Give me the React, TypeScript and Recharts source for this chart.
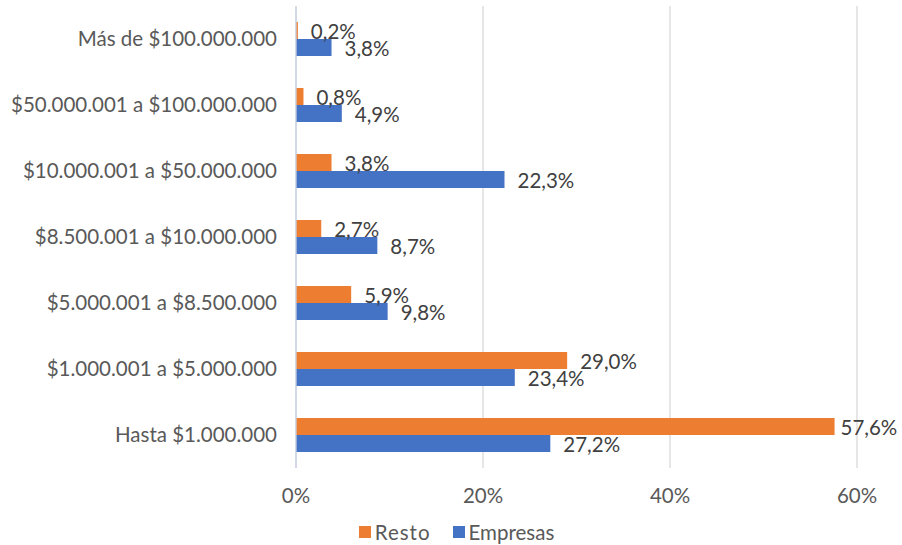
import { BarChart, Bar, XAxis, YAxis, CartesianGrid, LabelList, Legend } from 'recharts';

const categories = [
    'Más de $100.000.000',
    '$50.000.001 a $100.000.000',
    '$10.000.001 a $50.000.000',
    '$8.500.001 a $10.000.000',
    '$5.000.001 a $8.500.000',
    '$1.000.001 a $5.000.000',
    'Hasta $1.000.000',
];
const resto = [0.2, 0.8, 3.8, 2.7, 5.9, 29.0, 57.6];
const empresas = [3.8, 4.9, 22.3, 8.7, 9.8, 23.4, 27.2];
const xTicks = [0, 20, 40, 60];

const ORANGE = '#ED7D31';
const BLUE = '#4472C4';
const FONT = 'Lato, "Open Sans", sans-serif';

const pct = (v: number) => `${v.toFixed(1).replace('.', ',')}%`;

// value label to the right of the bar; long bars get a tighter gap so the text stays inside
const ValueLabel = (props: any) => {
    const { x, y, width, height, value } = props;
    const gap = value > 50 ? 6 : 13;
    return (
        <text
            x={x + width + gap}
            y={y + height / 2}
            dominantBaseline="central"
            fill="#404040"
            fontSize={20.5}
            fontFamily={FONT}
        >
            {pct(value)}
        </text>
    );
};

const LegendBox = () => (
    <div style={{ height: 26, display: 'flex', alignItems: 'center', justifyContent: 'center', paddingLeft: 56, fontFamily: FONT, fontSize: 20.5, color: '#595959' }}>
        <span style={{ width: 12, height: 12, background: ORANGE, marginRight: 4 }} />
        <span style={{ marginRight: 22, letterSpacing: 1 }}>Resto</span>
        <span style={{ width: 12, height: 12, background: BLUE, marginRight: 4 }} />
        <span>Empresas</span>
    </div>
);

export default function App() {
    const data = categories.map((name, i) => ({ name, resto: resto[i], empresas: empresas[i] }));

    return (
        <div style={{ position: 'absolute', left: 0, top: 0, width: 902, height: 545, background: '#fff' }}>
            <BarChart
                width={902}
                height={545}
                data={data}
                layout="vertical"
                margin={{ top: 6, right: 45, bottom: 0, left: 0 }}
                barGap={0}
                barSize={17}
            >
                <CartesianGrid horizontal={false} stroke="#d9d9d9" strokeWidth={1.3} />
                <XAxis
                    type="number"
                    domain={[0, 60]}
                    ticks={xTicks}
                    tickFormatter={(v: number) => `${v}%`}
                    axisLine={false}
                    tickLine={false}
                    tickSize={0}
                    tickMargin={20}
                    height={51}
                    tick={{ fill: '#595959', fontSize: 20.5, fontFamily: FONT }}
                />
                <YAxis
                    type="category"
                    dataKey="name"
                    width={296}
                    axisLine={{ stroke: '#c9d3e3', strokeWidth: 1.3 }}
                    tickLine={false}
                    tickSize={0}
                    tickMargin={19}
                    tick={{ fill: '#595959', fontSize: 20.5, fontFamily: FONT }}
                />
                <Legend verticalAlign="bottom" content={<LegendBox />} />
                <Bar dataKey="resto" name="Resto" fill={ORANGE} isAnimationActive={false}>
                    <LabelList dataKey="resto" content={<ValueLabel />} />
                </Bar>
                <Bar dataKey="empresas" name="Empresas" fill={BLUE} isAnimationActive={false}>
                    <LabelList dataKey="empresas" content={<ValueLabel />} />
                </Bar>
            </BarChart>
        </div>
    );
}
